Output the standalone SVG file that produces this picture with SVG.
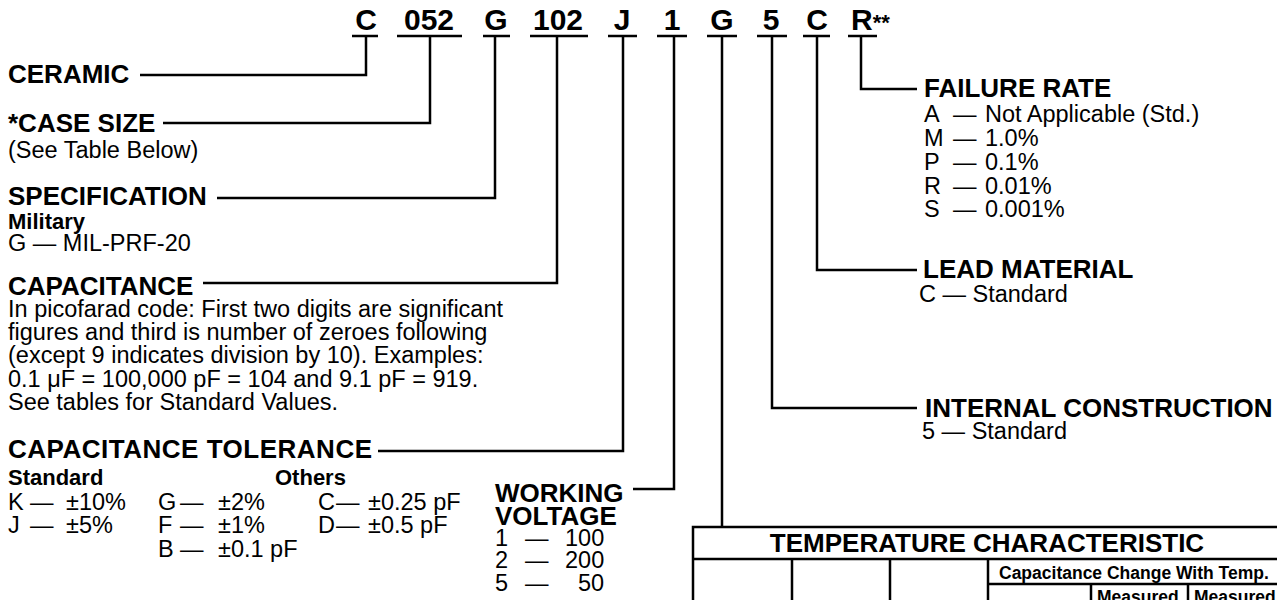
<svg xmlns="http://www.w3.org/2000/svg" width="1277" height="600" viewBox="0 0 1277 600">
<style>
text{font-family:"Liberation Sans",Arial,Helvetica,sans-serif;fill:#000}
.h{font-size:26px;font-weight:bold}
.b{font-size:23.5px}
.s{font-size:22px;font-weight:bold}
.code{font-size:30px;font-weight:bold;text-anchor:middle}
.ln{stroke:#000;stroke-width:2.5;fill:none}
.th{font-size:26px;font-weight:bold}
.tc{font-size:17.5px;font-weight:bold}
</style>
<rect width="1277" height="600" fill="#fff"/>
<g id="code">
<text class="code" x="366" y="30">C</text>
<text class="code" x="429" y="30">052</text>
<text class="code" x="496" y="30">G</text>
<text class="code" x="558" y="30">102</text>
<text class="code" x="622" y="30">J</text>
<text class="code" x="672" y="30">1</text>
<text class="code" x="722" y="30">G</text>
<text class="code" x="771" y="30">5</text>
<text class="code" x="817" y="30">C</text>
<text x="851" y="30" style="font-size:30px;font-weight:bold">R<tspan style="font-size:22px">**</tspan></text>
<path class="ln" d="M352,36H378M397,36H462M483,36H510M530,36H588M608,36H637M657,36H687M707,36H737M757,36H787M803,36H830M848,36H877"/>
</g>
<g id="connectors">
<path class="ln" d="M366,36V75H140"/>
<path class="ln" d="M430,36V123H163"/>
<path class="ln" d="M495,36V198H217"/>
<path class="ln" d="M557,36V283H203"/>
<path class="ln" d="M623,36V451H378"/>
<path class="ln" d="M674,36V489H633"/>
<path class="ln" d="M722,36V527"/>
<path class="ln" d="M772,36V408H917"/>
<path class="ln" d="M817,36V270H917"/>
<path class="ln" d="M861,36V89H917"/>
</g>
<g id="ceramic"><text class="h" x="8" y="83">CERAMIC</text></g>
<g id="case-size">
<text class="h" x="8" y="132">*CASE SIZE</text>
<text class="b" x="8" y="158">(See Table Below)</text>
</g>
<g id="specification">
<text class="h" x="8" y="205">SPECIFICATION</text>
<text class="s" x="8" y="229">Military</text>
<text class="b" x="8" y="251">G — MIL-PRF-20</text>
</g>
<g id="capacitance">
<text class="h" x="8" y="295">CAPACITANCE</text>
<text class="b" x="8" y="317">In picofarad code: First two digits are significant</text>
<text class="b" x="8" y="340">figures and third is number of zeroes following</text>
<text class="b" x="8" y="363">(except 9 indicates division by 10). Examples:</text>
<text class="b" x="8" y="387">0.1 μF = 100,000 pF = 104 and 9.1 pF = 919.</text>
<text class="b" x="8" y="410">See tables for Standard Values.</text>
</g>
<g id="tolerance">
<text class="h" x="8" y="458" textLength="364" lengthAdjust="spacing">CAPACITANCE TOLERANCE</text>
<text class="s" x="8" y="485">Standard</text>
<text class="s" x="275" y="485">Others</text>
<text class="b" y="510"><tspan x="8">K</tspan><tspan x="30">—</tspan><tspan x="66">±10%</tspan></text>
<text class="b" y="533"><tspan x="8">J</tspan><tspan x="30">—</tspan><tspan x="66">±5%</tspan></text>
<text class="b" y="510"><tspan x="158">G</tspan><tspan x="180">—</tspan><tspan x="218">±2%</tspan></text>
<text class="b" y="533"><tspan x="158">F</tspan><tspan x="180">—</tspan><tspan x="218">±1%</tspan></text>
<text class="b" y="557"><tspan x="158">B</tspan><tspan x="180">—</tspan><tspan x="218">±0.1 pF</tspan></text>
<text class="b" y="510"><tspan x="318">C</tspan><tspan x="336">—</tspan><tspan x="368">±0.25 pF</tspan></text>
<text class="b" y="533"><tspan x="318">D</tspan><tspan x="336">—</tspan><tspan x="368">±0.5 pF</tspan></text>
</g>
<g id="working-voltage">
<text class="h" x="495" y="502">WORKING</text>
<text class="h" x="495" y="525">VOLTAGE</text>
<text class="b" y="546"><tspan x="495">1</tspan><tspan x="525">—</tspan><tspan x="565">100</tspan></text>
<text class="b" y="568"><tspan x="495">2</tspan><tspan x="525">—</tspan><tspan x="565">200</tspan></text>
<text class="b" y="591"><tspan x="495">5</tspan><tspan x="525">—</tspan><tspan x="578">50</tspan></text>
</g>
<g id="failure-rate">
<text class="h" x="924" y="97">FAILURE RATE</text>
<text class="b" y="122"><tspan x="924">A</tspan><tspan x="953">—</tspan><tspan x="985">Not Applicable (Std.)</tspan></text>
<text class="b" y="146"><tspan x="924">M</tspan><tspan x="953">—</tspan><tspan x="985">1.0%</tspan></text>
<text class="b" y="170"><tspan x="924">P</tspan><tspan x="953">—</tspan><tspan x="985">0.1%</tspan></text>
<text class="b" y="194"><tspan x="924">R</tspan><tspan x="953">—</tspan><tspan x="985">0.01%</tspan></text>
<text class="b" y="217"><tspan x="924">S</tspan><tspan x="953">—</tspan><tspan x="985">0.001%</tspan></text>
</g>
<g id="lead-material">
<text class="h" x="923" y="278">LEAD MATERIAL</text>
<text class="b" x="919" y="302">C — Standard</text>
</g>
<g id="internal-construction">
<text class="h" x="925" y="417">INTERNAL CONSTRUCTION</text>
<text class="b" x="922" y="439">5 — Standard</text>
</g>
<g id="temperature-table">
<path class="ln" d="M1290,527H693V610M693,559H1290M792,559V610M890,559V610M988,559V610M988,584H1290M1091,584V610M1188,584V610"/>
<text class="th" x="987" y="552" text-anchor="middle">TEMPERATURE CHARACTERISTIC</text>
<text class="tc" x="999" y="579">Capacitance Change With Temp.</text>
<text class="tc" x="1097" y="603">Measured</text>
<text class="tc" x="1194" y="603">Measured</text>
</g>
</svg>
